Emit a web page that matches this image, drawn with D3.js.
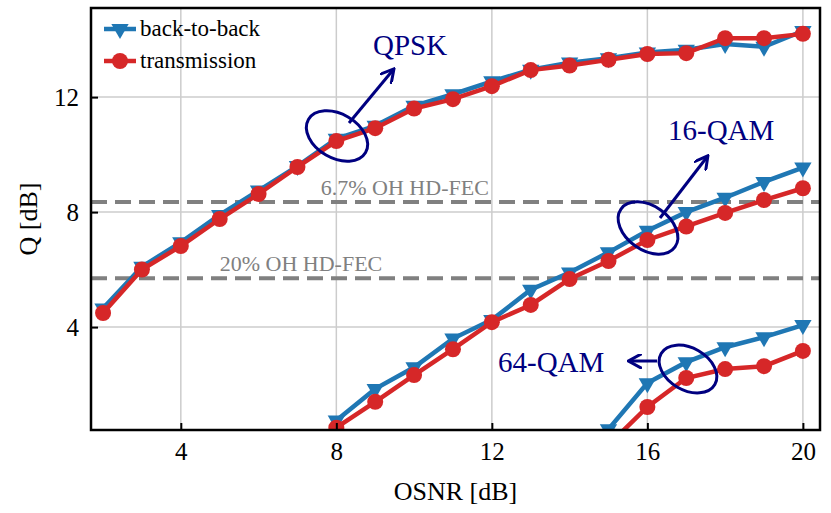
<!DOCTYPE html>
<html><head><meta charset="utf-8">
<script src="https://cdn.jsdelivr.net/npm/d3@7"></script>
<style>body{margin:0;background:#fff}svg text{font-family:"Liberation Serif","Times New Roman",serif !important}</style>
</head><body><svg id="c" width="831" height="513"></svg>
<script>
const osnr = d3.range(2, 21);
const qpskB2B = [4.65,6.1,6.95,7.9,8.75,9.6,10.55,11.0,11.7,12.1,12.55,12.95,13.2,13.35,13.55,13.65,13.85,13.75,14.3];
const qpskTx  = [4.49,6.0,6.82,7.76,8.63,9.57,10.47,10.92,11.6,11.93,12.38,12.94,13.1,13.3,13.5,13.53,14.05,14.05,14.2];
const osnr16 = d3.range(8, 21);
const qam16B2B = [0.75,1.85,2.6,3.6,4.25,5.3,5.9,6.6,7.35,8.0,8.5,9.05,9.55];
const qam16Tx  = [0.5,1.4,2.33,3.23,4.17,4.77,5.67,6.3,7.03,7.5,7.97,8.42,8.83];
const osnr64 = d3.range(15, 21);
const qam64B2B = [0.45,2.05,2.78,3.3,3.65,4.07];
const qam64Tx  = [-0.1,1.22,2.23,2.54,2.64,3.17];
const fecLevels = [{q:8.35,label:"6.7% OH HD-FEC",x:7.6},{q:5.7,label:"20% OH HD-FEC",x:5.0}];
const xTicks = [4,8,12,16,20], yTicks = [4,8,12];

const svg = d3.select("#c");
const L=91,R=820,T=8,B=430;
const x = d3.scaleLinear().domain([1.69,20.44]).range([L,R]);
const y = d3.scaleLinear().domain([0.42,15.1]).range([B,T]);
const blue="#1f77b4", red="#d62728", navy="#000080";

svg.append("defs").append("clipPath").attr("id","clip").append("rect")
  .attr("x",L).attr("y",T).attr("width",R-L).attr("height",B-T);
const g = svg.append("g").attr("clip-path","url(#clip)");

g.selectAll(".gx").data(xTicks).join("line").attr("x1",d=>x(d)).attr("x2",d=>x(d))
  .attr("y1",T).attr("y2",B).attr("stroke","#ccc").attr("stroke-width",1.5);
g.selectAll(".gy").data(yTicks).join("line").attr("y1",d=>y(d)).attr("y2",d=>y(d))
  .attr("x1",L).attr("x2",R).attr("stroke","#ccc").attr("stroke-width",1.5);

fecLevels.forEach(f=>{
  g.append("line").attr("x1",L).attr("x2",R).attr("y1",y(f.q)).attr("y2",y(f.q))
    .attr("stroke","#808080").attr("stroke-width",4).attr("stroke-dasharray","16,8");
  svg.append("text").attr("x",x(f.x)).attr("y",y(f.q)-7).attr("font-size",22)
    .attr("fill","#808080").text(f.label);
});

const line = d3.line().x(d=>x(d[0])).y(d=>y(d[1]));
function series(xs, ys, col, tri){
  const pts = xs.map((v,i)=>[v,ys[i]]);
  g.append("path").datum(pts).attr("d",line).attr("fill","none").attr("stroke",col).attr("stroke-width",4.5);
  if(tri){
    g.selectAll(null).data(pts).join("path")
      .attr("d",d3.symbol(d3.symbolTriangle,130)())
      .attr("transform",d=>`translate(${x(d[0])},${y(d[1])}) rotate(180)`).attr("fill",col);
  } else {
    g.selectAll(null).data(pts).join("circle").attr("cx",d=>x(d[0])).attr("cy",d=>y(d[1]))
      .attr("r",8).attr("fill",col);
  }
}
series(osnr,qpskB2B,blue,true); series(osnr,qpskTx,red,false);
series(osnr16,qam16B2B,blue,true); series(osnr16,qam16Tx,red,false);
series(osnr64,qam64B2B,blue,true); series(osnr64,qam64Tx,red,false);

// axes
const xa = svg.append("g").attr("transform",`translate(0,${B})`)
  .call(d3.axisBottom(x).tickValues(xTicks).tickSize(-7).tickPadding(12));
const ya = svg.append("g").attr("transform",`translate(${L},0)`)
  .call(d3.axisLeft(y).tickValues(yTicks).tickSize(-7).tickPadding(12));
[xa,ya].forEach(a=>{a.select(".domain").remove();
  a.attr("font-size",25).attr("font-family","Liberation Serif");
  a.selectAll("line").attr("stroke","#000").attr("stroke-width",2);
  a.selectAll("text").attr("fill","#000");});
svg.append("rect").attr("x",L).attr("y",T).attr("width",R-L).attr("height",B-T)
  .attr("fill","none").attr("stroke","#000").attr("stroke-width",2.5);
svg.append("text").attr("x",(L+R)/2).attr("y",500).attr("text-anchor","middle").attr("font-size",26).text("OSNR [dB]");
svg.append("text").attr("transform",`translate(37,${(T+B)/2}) rotate(-90)`).attr("text-anchor","middle").attr("font-size",26).text("Q [dB]");

// legend
const leg=[{t:"back-to-back",c:blue,tri:true},{t:"transmission",c:red,tri:false}];
leg.forEach((d,i)=>{
  const ly=29+i*32;
  svg.append("line").attr("x1",104).attr("x2",136).attr("y1",ly).attr("y2",ly).attr("stroke",d.c).attr("stroke-width",4.5);
  if(d.tri) svg.append("path").attr("d",d3.symbol(d3.symbolTriangle,130)()).attr("transform",`translate(120,${ly}) rotate(180)`).attr("fill",d.c);
  else svg.append("circle").attr("cx",120).attr("cy",ly).attr("r",8).attr("fill",d.c);
  svg.append("text").attr("x",140).attr("y",ly+7).attr("font-size",23).text(d.t);
});

// annotations
svg.append("defs").append("marker").attr("id","ar").attr("viewBox","0 0 10 10").attr("refX",8).attr("refY",5)
  .attr("markerWidth",5).attr("markerHeight",5).attr("orient","auto")
  .append("path").attr("d","M0,0L9,5L0,10").attr("fill","none").attr("stroke",navy).attr("stroke-width",2);
function ann(cx,cy,rx,ry,rot,ax1,ay1,ax2,ay2,tx,ty,txt){
  svg.append("ellipse").attr("cx",cx).attr("cy",cy).attr("rx",rx).attr("ry",ry)
    .attr("transform",`rotate(${rot},${cx},${cy})`).attr("fill","none").attr("stroke",navy).attr("stroke-width",3);
  svg.append("line").attr("x1",ax1).attr("y1",ay1).attr("x2",ax2).attr("y2",ay2)
    .attr("stroke",navy).attr("stroke-width",3).attr("marker-end","url(#ar)");
  svg.append("text").attr("x",tx).attr("y",ty).attr("font-size",29).attr("fill",navy).text(txt);
}
ann(337,136,33,22,30,349,123,393,70,373,55,"QPSK");
ann(648,228,33,22,35,660,218,707,157,668,140,"16-QAM");
ann(688,369,31,21,30,657,361,630,361,498,372,"64-QAM");
</script></body></html>
